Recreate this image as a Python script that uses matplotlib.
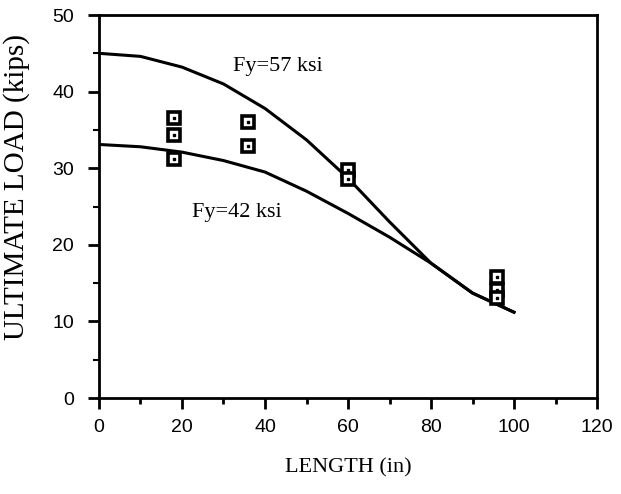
import numpy as np
import matplotlib.pyplot as plt
from matplotlib.ticker import MultipleLocator

# Curvas teoricas
length = [0, 10, 20, 30, 40, 50, 60, 70, 80, 90, 100]
load_57 = [45.0, 44.6, 43.2, 41.0, 37.8, 33.7, 28.7, 23.0, 17.6, 13.7, 11.2]
load_42 = [33.1, 32.8, 32.1, 31.0, 29.5, 27.0, 24.1, 21.0, 17.6, 13.7, 11.2]

# Ensaios
test_len = [18, 18, 18, 36, 36, 60, 60, 96, 96, 96]
test_load = [36.5, 34.4, 31.2, 36.0, 32.9, 29.8, 28.6, 15.8, 14.1, 13.0]

plt.rcParams['font.family'] = 'Liberation Sans'

fig = plt.figure(figsize=(6.21, 4.94), dpi=100)
ax = fig.add_axes([0.1594, 0.1943, 0.8020, 0.7753])

ax.plot(length, load_57, color='black', lw=2.2)
ax.plot(length, load_42, color='black', lw=2.2)
ax.plot(test_len, test_load, ls='none', marker='s', ms=9, mfc='white',
        mec='black', mew=2.6)
ax.plot(test_len, test_load, ls='none', marker='s', ms=2, color='black')

ax.text(32.2, 43.3, 'Fy=57 ksi', family='Liberation Serif', fontsize=16,
        va='center', ha='left')
ax.text(22.4, 24.2, 'Fy=42 ksi', family='Liberation Serif', fontsize=16,
        va='center', ha='left')

ax.set_xlim(0, 120)
ax.set_ylim(0, 50)
ax.xaxis.set_major_locator(MultipleLocator(20))
ax.xaxis.set_minor_locator(MultipleLocator(10))
ax.yaxis.set_major_locator(MultipleLocator(10))
ax.yaxis.set_minor_locator(MultipleLocator(5))

for s in ax.spines.values():
    s.set_linewidth(2.0)

ax.tick_params(axis='x', which='major', direction='out', length=8, width=2.0,
               labelsize=14, pad=7)
ax.tick_params(axis='x', which='minor', direction='out', length=4, width=2.0)
ax.tick_params(axis='y', which='major', direction='out', length=8, width=2.0,
               labelsize=14, pad=10)
ax.tick_params(axis='y', which='minor', direction='out', length=4, width=1.5)

ax.set_xlabel('LENGTH (in)', family='Liberation Serif', fontsize=16, labelpad=16)
ax.set_ylabel('ULTIMATE LOAD (kips)', family='Liberation Serif', fontsize=21)
ax.yaxis.set_label_coords(-0.139, 0.551)

plt.savefig('out.png', dpi=100)
